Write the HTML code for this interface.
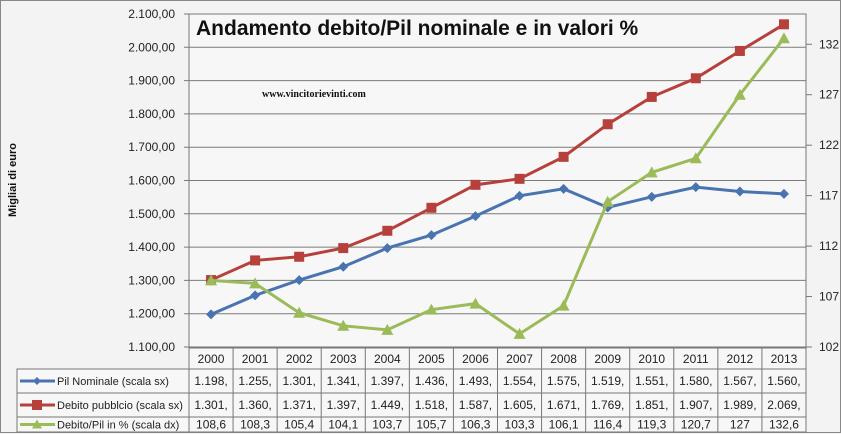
<!DOCTYPE html>
<html><head><meta charset="utf-8"><style>
html,body{margin:0;padding:0;background:#f3f3f3;}
svg{display:block;font-family:"Liberation Sans",sans-serif;}
</style></head><body>
<svg id="chart" width="841" height="434" viewBox="0 0 841 434">
<rect x="0" y="0" width="841" height="434" fill="#f3f3f3"/>
<rect x="0.5" y="0.5" width="840" height="432" fill="none" stroke="#888"/>
<g id="grid"></g>
<g id="axes"></g>
<text x="196" y="35" font-size="21" font-weight="bold" fill="#111">Andamento debito/Pil nominale e in valori %</text>
<text x="262" y="97" font-size="10" font-weight="bold" font-family="Liberation Serif,serif" fill="#111">www.vincitorievinti.com</text>
<text transform="translate(16,180) rotate(-90)" text-anchor="middle" font-size="11" font-weight="bold" fill="#111">Migliai di euro</text>
<g id="series"></g>
<g id="table"></g>
</svg>
<script>
const years=['2000','2001','2002','2003','2004','2005','2006','2007','2008','2009','2010','2011','2012','2013'];
const pil=[1198,1255,1301,1341,1397,1436,1493,1554,1575,1519,1551,1580,1567,1560];
const debito=[1301,1360,1371,1397,1449,1518,1587,1605,1671,1769,1851,1907,1989,2069];
const ratio=[108.6,108.3,105.4,104.1,103.7,105.7,106.3,103.3,106.1,116.4,119.3,120.7,127,132.6];
const leftTicks=[1100,1200,1300,1400,1500,1600,1700,1800,1900,2000,2100];
const rightTicks=[102,107,112,117,122,127,132];

const NS='http://www.w3.org/2000/svg';
const X0=189,X1=806,Y0=14,Y1=347;
const cw=(X1-X0)/years.length;
const xc=i=>X0+cw*(i+0.5);
const yl=v=>Y1-(v-1100)/(2100-1100)*(Y1-Y0);
const yr=v=>Y1-(v-102)/(135-102)*(Y1-Y0);
function mk(tag,attrs,parent,text){const e=document.createElementNS(NS,tag);for(const k in attrs)e.setAttribute(k,attrs[k]);if(text!==undefined)e.textContent=text;parent.appendChild(e);return e;}
const grid=document.getElementById('grid'),axes=document.getElementById('axes'),ser=document.getElementById('series'),tbl=document.getElementById('table');
mk('rect',{x:X0,y:Y0,width:X1-X0,height:Y1-Y0,fill:'#f7f7f7',stroke:'#777'},grid);
leftTicks.forEach(v=>{
 const l=mk('line',{x1:X0-5,x2:X1,y1:yl(v),y2:yl(v),stroke:'#7a7a7a','stroke-width':1},grid);
 
 
 const t=mk('text',{x:X0-14,y:yl(v)+4,'text-anchor':'end','font-size':12,fill:'#222'},axes,v.toLocaleString('de-DE')+',00');
 
 
});
mk('line',{x1:X1,x2:X1,y1:Y0,y2:Y1,stroke:'#777'},axes);
rightTicks.forEach(v=>{
 mk('line',{x1:X1,x2:X1+6,y1:yr(v),y2:yr(v),stroke:'#777'},axes);
 const t=mk('text',{x:X1+13,y:yr(v)+4,'font-size':12,fill:'#222'},axes,String(v));
 
 
});
function line(vals,fy,color,name,marker){
 const pts=vals.map((v,i)=>xc(i)+','+fy(v)).join(' ');
 const p=mk('polyline',{points:pts,fill:'none',stroke:color,'stroke-width':3},ser);
 
 
 vals.forEach((v,i)=>{
  const x=xc(i),y=fy(v);let m;
  if(marker==='d')m=mk('polygon',{points:`${x},${y-5} ${x+5},${y} ${x},${y+5} ${x-5},${y}`,fill:color},ser);
  else if(marker==='s')m=mk('rect',{x:x-5,y:y-5,width:10,height:10,fill:color},ser);
  else m=mk('polygon',{points:`${x},${y-6} ${x+6},${y+5} ${x-6},${y+5}`,fill:color},ser);
  
  
 });
}
line(pil,yl,'#4a74b0','pil-nominale','d');
line(debito,yl,'#b6403c','debito-pubblico','s');
line(ratio,yr,'#9bbb59','debito-pil-ratio','t');
// table
const TL=17,rows=[348,369,393,417,432];
mk('rect',{x:TL,y:rows[1],width:X1-TL,height:rows[4]-rows[1],fill:'#f7f7f7',stroke:'#777'},tbl);
mk('rect',{x:X0,y:rows[0],width:X1-X0,height:rows[1]-rows[0],fill:'#f7f7f7',stroke:'#777'},tbl);
for(let r=1;r<4;r++)mk('line',{x1:TL,x2:X1,y1:rows[r],y2:rows[r],stroke:'#777'},tbl);
for(let i=0;i<=years.length;i++)mk('line',{x1:X0+cw*i,x2:X0+cw*i,y1:rows[0],y2:rows[4],stroke:'#777'},tbl);
years.forEach((y,i)=>{const t=mk('text',{x:xc(i),y:rows[0]+15,'text-anchor':'middle','font-size':12,fill:'#222'},tbl,y);
 
 });
const fmt=v=>v.toLocaleString('de-DE')+',';
const defs=[[pil,'Pil Nominale  (scala sx)','#4a74b0','d',fmt],[debito,'Debito pubblcio (scala sx)','#b6403c','s',fmt],[ratio,'Debito/Pil in %  (scala dx)','#9bbb59','t',v=>String(v).replace('.',',')]];
defs.forEach((d,r)=>{
 const cy=(rows[r+1]+rows[r+2])/2;
 mk('line',{x1:TL+3,x2:TL+38,y1:cy,y2:cy,stroke:d[2],'stroke-width':3},tbl);
 const mx=TL+20;
 if(d[3]==='d')mk('polygon',{points:`${mx},${cy-4} ${mx+4},${cy} ${mx},${cy+4} ${mx-4},${cy}`,fill:d[2]},tbl);
 else if(d[3]==='s')mk('rect',{x:mx-5,y:cy-5,width:10,height:10,fill:d[2]},tbl);
 else mk('polygon',{points:`${mx},${cy-5} ${mx+5},${cy+4} ${mx-5},${cy+4}`,fill:d[2]},tbl);
 const lg=mk('text',{x:TL+40,y:cy+4,'font-size':11,fill:'#222'},tbl,d[1]);
 
 
 d[0].forEach((v,i)=>{const t=mk('text',{x:xc(i),y:cy+4,'text-anchor':'middle','font-size':12,fill:'#222'},tbl,d[4](v));
  
  });
});
</script>
</body></html>
